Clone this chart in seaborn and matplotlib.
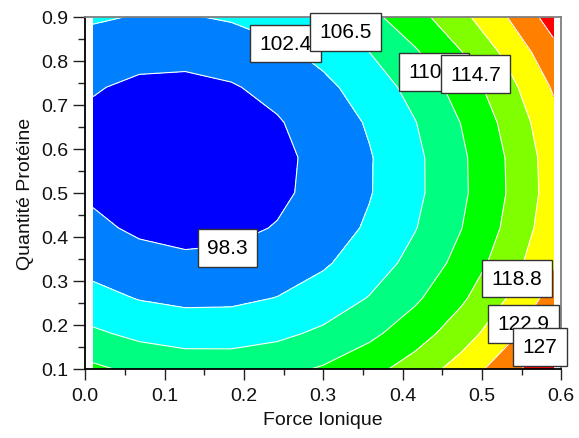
import numpy as np
import matplotlib
matplotlib.use("Agg")
import matplotlib.pyplot as plt
import seaborn as sns

# ---- data ----
force_ionique = [0.01, 0.068, 0.126, 0.184, 0.242, 0.30, 0.358, 0.416, 0.474, 0.532, 0.59]
quantite_proteine = [0.10, 0.18, 0.26, 0.34, 0.42, 0.50, 0.58, 0.66, 0.74, 0.82, 0.90]

# response values, one row per quantite_proteine value
reponse = [
    [111.27, 109.60, 108.73, 108.67, 109.41, 110.96, 113.31, 116.47, 120.43, 125.20, 130.77],
    [107.13, 105.55, 104.77, 104.79, 105.61, 107.23, 109.65, 112.87, 116.88, 121.70, 127.32],
    [103.69, 102.21, 101.52, 101.62, 102.51, 104.20, 106.69, 109.97, 114.04, 118.91, 124.57],
    [100.99, 99.59, 98.99, 99.17, 100.14, 101.90, 104.45, 107.79, 111.92, 116.83, 122.54],
    [99.01, 97.71, 97.19, 97.45, 98.50, 100.33, 102.94, 106.34, 110.52, 115.48, 121.23],
    [97.77, 96.56, 96.12, 96.46, 97.58, 99.48, 102.16, 105.61, 109.84, 114.85, 120.63],
    [97.28, 96.15, 95.80, 96.22, 97.41, 99.38, 102.11, 105.62, 109.90, 114.96, 120.78],
    [97.55, 96.51, 96.24, 96.73, 98.00, 100.03, 102.82, 106.39, 110.72, 115.82, 121.68],
    [98.57, 97.61, 97.42, 98.00, 99.33, 101.42, 104.28, 107.90, 112.28, 117.42, 123.32],
    [100.36, 99.49, 99.38, 100.02, 101.42, 103.58, 106.50, 110.17, 114.59, 119.78, 125.72],
    [102.92, 102.14, 102.11, 102.83, 104.30, 106.52, 109.49, 113.21, 117.68, 122.91, 128.88],
]

niveaux = [98.3, 102.4, 106.5, 110.6, 114.7, 118.8, 122.9, 127.0]
etiquettes = ["98.3", "102.4", "106.5", "110.6", "114.7", "118.8", "122.9", "127"]
couleurs = ["#0000FF", "#0080FF", "#00FFFF", "#00FF80", "#00FF00",
            "#80FF00", "#FFFF00", "#FF8000", "#FF0000"]

x_ticks = [0.0, 0.1, 0.2, 0.3, 0.4, 0.5, 0.6]
x_tick_labels = ["0.0", "0.1", "0.2", "0.3", "0.4", "0.5", "0.6"]
y_ticks = [0.1, 0.2, 0.3, 0.4, 0.5, 0.6, 0.7, 0.8, 0.9]
y_tick_labels = ["0.1", "0.2", "0.3", "0.4", "0.5", "0.6", "0.7", "0.8", "0.9"]

# ---- styling ----
sns.set_style("ticks")
plt.rcParams['font.family'] = ['Liberation Sans', 'DejaVu Sans']

fig = plt.figure(figsize=(5.79, 4.39), dpi=100)
ax = fig.add_axes([0.1473, 0.1583, 0.8221, 0.8007])

Z = np.array(reponse)
lv = [Z.min() - 1.0] + niveaux + [Z.max() + 1.0]
ax.contourf(force_ionique, quantite_proteine, Z, levels=lv, colors=couleurs, zorder=1)
ax.contour(force_ionique, quantite_proteine, Z, levels=niveaux, colors="white",
           linewidths=0.8, zorder=2)

# label placement (layout)
label_pos = [(0.179, 0.375), (0.2525, 0.8396), (0.3285, 0.866), (0.4395, 0.775),
             (0.492, 0.770), (0.5444, 0.305), (0.5526, 0.202), (0.5734, 0.149)]
for i, (txt, (lx, ly)) in enumerate(zip(etiquettes, label_pos)):
    ax.text(lx, ly, txt, fontsize=15, ha="center", va="center", color="black",
            zorder=5 + i, clip_on=False,
            bbox=dict(boxstyle="square,pad=0.45", fc="white", ec="#333333", lw=1.0))

ax.set_xlim(0.0, 0.6)
ax.set_ylim(0.1, 0.9)
ax.set_xticks(x_ticks)
ax.set_xticklabels(x_tick_labels)
ax.set_yticks(y_ticks)
ax.set_yticklabels(y_tick_labels)
ax.set_xticks([0.05, 0.15, 0.25, 0.35, 0.45, 0.55], minor=True)
ax.set_yticks([0.15, 0.25, 0.35, 0.45, 0.55, 0.65, 0.75, 0.85], minor=True)

ax.tick_params(axis="x", which="major", length=8, width=1, color="#222222",
               labelsize=14, pad=5, labelcolor="#111111")
ax.tick_params(axis="y", which="major", length=9, width=1, color="#222222",
               labelsize=14, pad=3, labelcolor="#111111")
ax.tick_params(axis="x", which="minor", length=4.5, width=1, color="#222222")
ax.tick_params(axis="y", which="minor", length=5, width=1, color="#222222")

for s in ["left", "bottom"]:
    ax.spines[s].set_color("black")
    ax.spines[s].set_linewidth(1.3)
for s in ["top", "right"]:
    ax.spines[s].set_color("#7f7f7f")
    ax.spines[s].set_linewidth(1.3)
    ax.spines[s].set_visible(True)

ax.set_xlabel("Force Ionique", fontsize=14, labelpad=5, color="#111111")
ax.set_ylabel("Quantité Protéine", fontsize=14, labelpad=5, color="#111111")

fig.savefig("out.png", dpi=100)
